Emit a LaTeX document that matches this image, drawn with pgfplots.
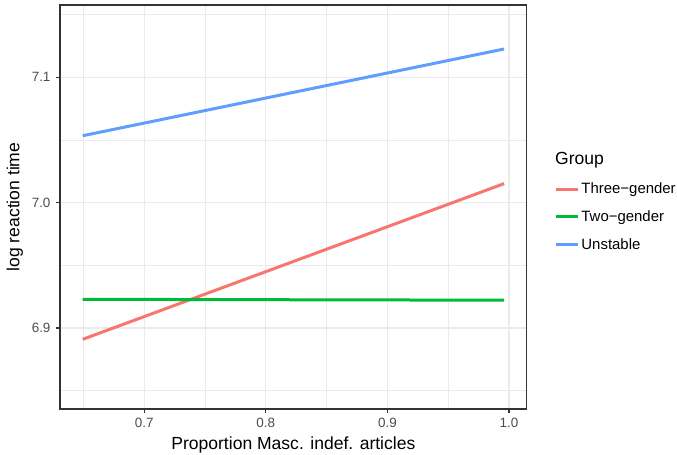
\documentclass[border=0pt]{standalone}
\usepackage{pgfplots}
\pgfplotsset{compat=1.18}
\usepackage{fontspec}
\setmainfont{Liberation Sans}
\definecolor{threeg}{HTML}{F8766D}
\definecolor{twog}{HTML}{00BA38}
\definecolor{unst}{HTML}{619CFF}
\definecolor{gridc}{HTML}{EBEBEB}
\definecolor{tickc}{HTML}{4D4D4D}
\definecolor{framec}{HTML}{333333}

\begin{document}
\begin{tikzpicture}
\begin{axis}[
    scale only axis,
    width=466.7bp, height=404bp,
    xmin=0.6307, xmax=1.0146,
    ymin=6.8354, ymax=7.1577,
    xtick={0.7,0.8,0.9,1.0},
    ytick={6.9,7.0,7.1},
    minor xtick={0.65,0.75,0.85,0.95},
    minor ytick={6.85,6.95,7.05,7.15},
    xticklabels={0.7,0.8,0.9,1.0},
    yticklabels={6.9,7.0,7.1},
    grid=both,
    major grid style={gridc, line width=1.1bp},
    minor grid style={gridc, line width=0.55bp},
    axis line style={framec, line width=1.1bp},
    tick style={framec, line width=1.1bp},
    major tick length=4bp,
    minor tick length=0pt,
    tick align=outside,
    xtick pos=bottom, ytick pos=left,
    ticklabel style={font=\fontsize{13.5}{15}\selectfont, text=tickc},
    xticklabel style={yshift=-2bp},
    yticklabel style={xshift=-2bp},
    /pgf/number format/assume math mode=true,
    xlabel={Proportion Masc. indef. articles},
    ylabel={log reaction time},
    label style={font=\fontsize{17.6}{19}\selectfont},
    xlabel style={yshift=-2bp},
    ylabel style={yshift=2bp},
    legend style={draw=none, fill=none, at={(rel axis cs:1.059,0.565)}, anchor=north west,
        font=\fontsize{15}{17}\selectfont, row sep=11.5bp, inner sep=0pt},
    legend cell align=left,
    legend image code/.code={\draw[#1, line width=3bp] (0bp,0bp) -- (22bp,0bp);},
    every axis plot/.append style={line width=3bp},
]
\addplot[threeg] coordinates {(0.6494,6.891) (0.996,7.0152)};
\addlegendentry{Three−gender}
\addplot[twog] coordinates {(0.6494,6.9229) (0.996,6.9222)};
\addlegendentry{Two−gender}
\addplot[unst] coordinates {(0.6494,7.0534) (0.996,7.1226)};
\addlegendentry{Unstable}
\coordinate (A) at (rel axis cs:0,0);
\coordinate (B) at (rel axis cs:1,1);
\end{axis}
\node[anchor=west, font=\fontsize{17.6}{19}\selectfont, inner sep=0pt] at ([xshift=28.3bp,yshift=-155bp]B) {Group};
\pgfresetboundingbox
\useasboundingbox ([xshift=-60bp,yshift=-46bp]A) rectangle ([xshift=150.3bp,yshift=5bp]B);
\end{tikzpicture}
\end{document}
